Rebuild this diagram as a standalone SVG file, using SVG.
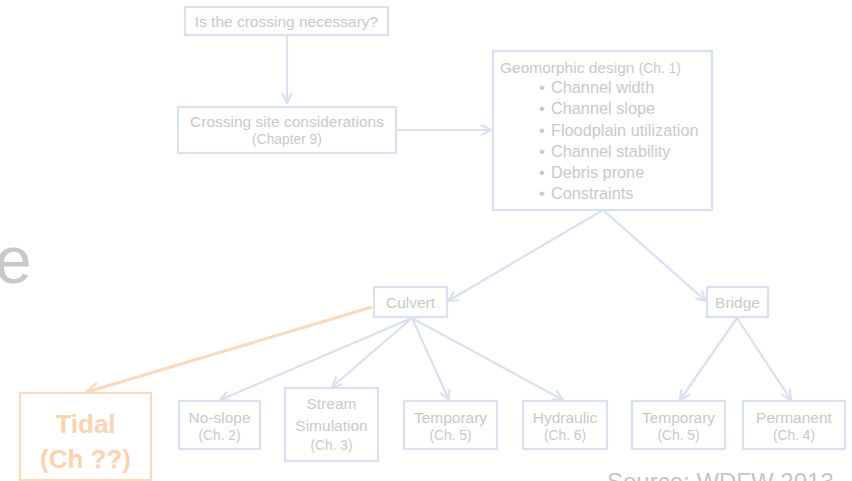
<svg xmlns="http://www.w3.org/2000/svg" width="852" height="481" viewBox="0 0 852 481">
<defs>
<style>
.box{fill:#ffffff;stroke:#d9e1f1;stroke-width:2.2}
.obox{fill:#ffffff;stroke:#fbd9bd;stroke-width:2.2}
.t{font-family:"Liberation Sans",Arial,sans-serif;font-size:15.5px;fill:#c9c9c9}
.tb{font-family:"Liberation Sans",Arial,sans-serif;font-size:16.3px;fill:#c9c9c9}
.ts{font-family:"Liberation Sans",Arial,sans-serif;font-size:13.8px;fill:#c9c9c9}
.c{text-anchor:middle}
.ot{font-family:"Liberation Sans",Arial,sans-serif;font-size:26px;font-weight:bold;fill:#fbd3b0;text-anchor:middle}
.ln{fill:none;stroke:#d9e1f1;stroke-width:2.2}
.oln{fill:none;stroke:#fbd9bd;stroke-width:3}
</style>
<marker id="ah" viewBox="0 0 12 12" refX="11" refY="6" markerWidth="12" markerHeight="12" markerUnits="userSpaceOnUse" orient="auto">
<path d="M1,1 L11,6 L1,11" fill="none" stroke="#d9e1f1" stroke-width="2.2"/>
</marker>
<marker id="oah" viewBox="0 0 14 14" refX="13" refY="7" markerWidth="14" markerHeight="14" markerUnits="userSpaceOnUse" orient="auto">
<path d="M1,1 L13,7 L1,13" fill="none" stroke="#fbd9bd" stroke-width="2.6"/>
</marker>
</defs>
<rect width="852" height="481" fill="#ffffff"/>
<text x="-5" y="283" font-family="Liberation Sans,Arial,sans-serif" font-size="66" fill="#c8c8c8">e</text>
<text x="607" y="490" font-family="Liberation Sans,Arial,sans-serif" font-size="24" fill="#c4c4c4">Source: WDFW 2013</text>
<g id="connectors">
<line class="ln" x1="287" y1="35" x2="287" y2="103" marker-end="url(#ah)"/>
<line class="ln" x1="396" y1="130" x2="491" y2="130" marker-end="url(#ah)"/>
<line class="ln" x1="603" y1="210" x2="448" y2="301" marker-end="url(#ah)"/>
<line class="ln" x1="603" y1="210" x2="706" y2="301" marker-end="url(#ah)"/>
<line class="ln" x1="412" y1="318" x2="220" y2="400" marker-end="url(#ah)"/>
<line class="ln" x1="412" y1="318" x2="332" y2="387" marker-end="url(#ah)"/>
<line class="ln" x1="412" y1="318" x2="449" y2="400" marker-end="url(#ah)"/>
<line class="ln" x1="412" y1="318" x2="563" y2="400" marker-end="url(#ah)"/>
<line class="ln" x1="737" y1="318" x2="680" y2="400" marker-end="url(#ah)"/>
<line class="ln" x1="737" y1="318" x2="791" y2="400" marker-end="url(#ah)"/>
<line class="oln" x1="372" y1="307" x2="87" y2="392" marker-end="url(#oah)"/>
</g>
<g id="n-necessary">
<rect class="box" x="185" y="7" width="203" height="28"/>
<text class="t c" x="286.5" y="26.5">Is the crossing necessary?</text>
</g>
<g id="n-site">
<rect class="box" x="178" y="107" width="218" height="46"/>
<text class="t c" x="287" y="126.5">Crossing site considerations</text>
<text class="ts c" x="287" y="144">(Chapter 9)</text>
</g>
<g id="n-geomorphic">
<rect class="box" x="493" y="51" width="219" height="159"/>
<text class="t" x="500" y="73">Geomorphic design <tspan font-size="13.8">(Ch. 1)</tspan></text>
<text class="tb" x="539" y="93">•<tspan x="551">Channel width</tspan></text>
<text class="tb" x="539" y="114">•<tspan x="551">Channel slope</tspan></text>
<text class="tb" x="539" y="136">•<tspan x="551">Floodplain utilization</tspan></text>
<text class="tb" x="539" y="157">•<tspan x="551">Channel stability</tspan></text>
<text class="tb" x="539" y="178">•<tspan x="551">Debris prone</tspan></text>
<text class="tb" x="539" y="199">•<tspan x="551">Constraints</tspan></text>
</g>
<g id="n-culvert">
<rect class="box" x="374" y="287" width="73" height="30"/>
<text class="t c" x="410.5" y="307.5">Culvert</text>
</g>
<g id="n-bridge">
<rect class="box" x="707" y="287" width="61" height="30"/>
<text class="t c" x="737.5" y="307.5">Bridge</text>
</g>
<g id="n-tidal">
<rect class="obox" x="20" y="393" width="131" height="87"/>
<text class="ot" x="85.5" y="433">Tidal</text>
<text class="ot" x="85.5" y="468">(Ch ??)</text>
</g>
<g id="n-noslope">
<rect class="box" x="179" y="401" width="81" height="48"/>
<text class="t c" x="219.5" y="422.5">No-slope</text>
<text class="ts c" x="219.5" y="440">(Ch. 2)</text>
</g>
<g id="n-stream">
<rect class="box" x="285" y="388" width="93" height="73"/>
<text class="t c" x="331.5" y="408.5">Stream</text>
<text class="t c" x="331.5" y="430.5">Simulation</text>
<text class="ts c" x="331.5" y="450">(Ch. 3)</text>
</g>
<g id="n-temp1">
<rect class="box" x="404" y="401" width="93" height="48"/>
<text class="t c" x="450.5" y="422.5">Temporary</text>
<text class="ts c" x="450.5" y="440">(Ch. 5)</text>
</g>
<g id="n-hydraulic">
<rect class="box" x="523" y="401" width="84" height="48"/>
<text class="t c" x="565" y="422.5">Hydraulic</text>
<text class="ts c" x="565" y="440">(Ch. 6)</text>
</g>
<g id="n-temp2">
<rect class="box" x="632" y="401" width="93" height="48"/>
<text class="t c" x="678.5" y="422.5">Temporary</text>
<text class="ts c" x="678.5" y="440">(Ch. 5)</text>
</g>
<g id="n-permanent">
<rect class="box" x="743" y="401" width="102" height="48"/>
<text class="t c" x="794" y="422.5">Permanent</text>
<text class="ts c" x="794" y="440">(Ch. 4)</text>
</g>
</svg>
